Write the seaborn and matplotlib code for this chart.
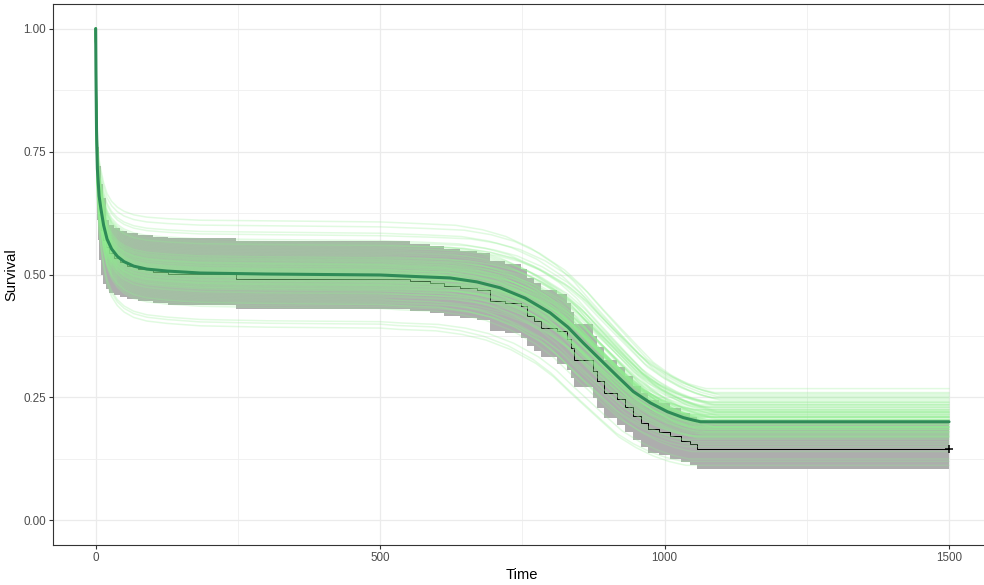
import numpy as np
import pandas as pd
import matplotlib
matplotlib.use("Agg")
import matplotlib.pyplot as plt
import seaborn as sns
from matplotlib.ticker import FixedLocator

# ---------------- data ----------------
# Kaplan-Meier estimate (step function) with confidence band
km_time = [0, 0.5, 1, 1.5, 2.5, 4, 6, 9, 13, 18, 24, 32, 42, 55, 75, 100, 128, 246, 553, 588,
           612, 640, 671, 694, 720, 747, 759, 770, 782, 811, 829, 835, 840, 875, 882, 893, 917, 930, 945, 958,
           970, 990, 1010, 1028, 1045, 1057, 1500]
km_surv = [1.0, 0.90, 0.82, 0.76, 0.70, 0.66, 0.62, 0.59, 0.57, 0.555, 0.543, 0.533, 0.525, 0.517, 0.511, 0.506, 0.502, 0.491, 0.487, 0.483,
           0.476, 0.473, 0.469, 0.446, 0.443, 0.436, 0.415, 0.405, 0.392, 0.385, 0.368, 0.350, 0.327, 0.303, 0.283, 0.260, 0.246, 0.230, 0.212, 0.198,
           0.185, 0.179, 0.171, 0.161, 0.155, 0.146, 0.146]
km_upper = [1.0, 0.96, 0.90, 0.85, 0.80, 0.76, 0.72, 0.685, 0.655, 0.61, 0.60, 0.595, 0.588, 0.585, 0.58, 0.577, 0.575, 0.568, 0.562, 0.557,
            0.551, 0.547, 0.543, 0.528, 0.522, 0.512, 0.493, 0.483, 0.469, 0.460, 0.443, 0.424, 0.400, 0.374, 0.352, 0.327, 0.312, 0.294, 0.274, 0.259,
            0.245, 0.238, 0.229, 0.218, 0.211, 0.198, 0.198]
km_lower = [1.0, 0.84, 0.74, 0.67, 0.61, 0.57, 0.53, 0.50, 0.48, 0.47, 0.462, 0.458, 0.455, 0.450, 0.446, 0.442, 0.439, 0.429, 0.425, 0.421,
            0.415, 0.411, 0.407, 0.385, 0.382, 0.370, 0.354, 0.344, 0.332, 0.318, 0.305, 0.290, 0.271, 0.248, 0.228, 0.209, 0.195, 0.180, 0.163, 0.150,
            0.138, 0.133, 0.125, 0.118, 0.112, 0.105, 0.105]
censor_time = [1500]
censor_surv = [0.146]

# posterior mean survival curve
mean_time = [0, 0.5, 1.5, 3, 6, 9, 14, 20, 28, 38, 50, 67, 90, 126, 184, 300, 400, 500, 560, 623,
             670, 711, 755, 799, 830, 857, 887, 917, 945, 975, 1005, 1033, 1050, 1063, 1500]
mean_surv = [1.0, 0.913, 0.795, 0.715, 0.66, 0.635, 0.600, 0.572, 0.552, 0.537, 0.526, 0.517, 0.511, 0.507, 0.503, 0.501, 0.500, 0.499, 0.496, 0.493,
             0.485, 0.473, 0.452, 0.422, 0.393, 0.361, 0.327, 0.293, 0.262, 0.239, 0.221, 0.209, 0.204, 0.2006, 0.2006]

# individual posterior draws: first plateau level, final level, timing offset of the decline
draw_plateau = [0.608, 0.598, 0.585, 0.400, 0.392, 0.405,
                0.432, 0.436, 0.440, 0.443, 0.446, 0.449, 0.452, 0.455, 0.458, 0.461,
                0.464, 0.467, 0.470, 0.472, 0.475, 0.477, 0.480, 0.482, 0.485, 0.487,
                0.490, 0.492, 0.495, 0.497, 0.500, 0.502, 0.505, 0.507, 0.510, 0.512,
                0.515, 0.517, 0.520, 0.522, 0.525, 0.528, 0.530, 0.533, 0.536, 0.539,
                0.542, 0.545, 0.548, 0.551, 0.554, 0.557, 0.560, 0.563, 0.566, 0.570,
                0.478, 0.493, 0.508, 0.521,
                0.462, 0.468, 0.471, 0.474, 0.479, 0.481, 0.484, 0.486, 0.488, 0.491,
                0.494, 0.496, 0.498, 0.499, 0.501, 0.503, 0.504, 0.506, 0.509, 0.511,
                0.513, 0.516, 0.519, 0.523, 0.527, 0.531, 0.535, 0.440, 0.560, 0.580]
draw_final = [0.268, 0.258, 0.250, 0.120, 0.112, 0.125,
              0.150, 0.170, 0.155, 0.175, 0.160, 0.180, 0.165, 0.185, 0.168, 0.190,
              0.172, 0.188, 0.176, 0.195, 0.178, 0.200, 0.182, 0.198, 0.186, 0.205,
              0.190, 0.208, 0.194, 0.212, 0.196, 0.185, 0.215, 0.200, 0.220, 0.203,
              0.218, 0.205, 0.225, 0.210, 0.228, 0.212, 0.232, 0.215, 0.235, 0.218,
              0.238, 0.222, 0.242, 0.225, 0.245, 0.230, 0.248, 0.235, 0.252, 0.240,
              0.200, 0.180, 0.190, 0.200,
              0.190, 0.172, 0.200, 0.180, 0.210, 0.170, 0.200, 0.190, 0.215, 0.185,
              0.210, 0.200, 0.190, 0.222, 0.205, 0.195, 0.225, 0.210, 0.200, 0.230,
              0.190, 0.220, 0.205, 0.235, 0.210, 0.240, 0.220, 0.140, 0.260, 0.255]
draw_offset = [10, 25, 20, -30, -25, -20,
               -25, -10, -20, 5, -15, 0, -30, 10, -5, 15,
               -20, 5, -10, 20, 0, -15, 10, 25, -5, 15,
               -10, 30, 0, -20, 5, 20, -15, 10, 25, -5,
               15, 30, -10, 5, 20, 35, 0, 10, 25, -5,
               15, 30, 5, 20, 35, 10, 25, 0, 30, 15,
               -10, 10, -20, 20,
               5, -10, 15, 0, 20, -5, 10, 25, -15, 5,
               15, -5, 20, 0, 10, 30, -10, 5, 15, -5,
               25, 0, 10, 20, -5, 15, 30, -15, 25, 35]

# ---------------- build long table for the draws ----------------
lo_level = mean_surv[-1]
hi_level = 0.5
rows = []
for d, (a, b, s) in enumerate(zip(draw_plateau, draw_final, draw_offset)):
    for t, m in zip(mean_time, mean_surv):
        if t < 300:
            y = 1 - (1 - m) * (1 - a) / (1 - hi_level)
        else:
            y = b + (m - lo_level) * (a - b) / (hi_level - lo_level)
        x = t + s if 500 < t < 1500 else t
        rows.append((d, x, y))
draws = pd.DataFrame(rows, columns=["draw", "time", "surv"])
mean_df = pd.DataFrame({"time": mean_time, "surv": mean_surv})
km_df = pd.DataFrame({"time": km_time, "surv": km_surv})

# ---------------- plotting ----------------
sns.set_theme(style="white")
plt.rcParams["font.family"] = ["Liberation Sans", "DejaVu Sans"]

fig = plt.figure(figsize=(9.84, 5.85), dpi=100)
ax = fig.add_axes([53 / 984, 40 / 585, 938.7 / 984, 541 / 585])

ax.fill_between(km_time, km_lower, km_upper, step="post", color="#ADADAD", lw=0, zorder=1)
sns.lineplot(data=km_df, x="time", y="surv", drawstyle="steps-post", color="black",
             lw=0.7, estimator=None, ax=ax, zorder=2)
sns.lineplot(data=draws, x="time", y="surv", units="draw", estimator=None, sort=False,
             color="#90EE90", alpha=0.27, lw=1.1, ax=ax, legend=False, zorder=3)
sns.lineplot(data=mean_df, x="time", y="surv", color="#2E8B57", lw=2.2,
             estimator=None, sort=False, ax=ax, zorder=4)
ax.plot(censor_time, censor_surv, marker="+", ls="none", color="black", ms=6, mew=1.1, zorder=5)

ax.set_xlim(-75, 1575)
ax.set_ylim(-0.05, 1.05)
ax.xaxis.set_major_locator(FixedLocator([0, 500, 1000, 1500]))
ax.xaxis.set_minor_locator(FixedLocator([250, 750, 1250]))
ax.yaxis.set_major_locator(FixedLocator([0, 0.25, 0.5, 0.75, 1.0]))
ax.yaxis.set_minor_locator(FixedLocator([0.125, 0.375, 0.625, 0.875]))
ax.set_xticklabels(["0", "500", "1000", "1500"])
ax.set_yticklabels(["0.00", "0.25", "0.50", "0.75", "1.00"])

ax.set_axisbelow(True)
ax.grid(which="major", color="#EBEBEB", lw=0.9)
ax.grid(which="minor", color="#EFEFEF", lw=0.6)
ax.tick_params(which="major", direction="out", length=3, width=0.8, color="#333333",
               labelcolor="#4D4D4D", labelsize=8.4, pad=2,
               bottom=True, left=True)
ax.tick_params(which="minor", length=0)
for sp in ax.spines.values():
    sp.set_color("#333333")
    sp.set_linewidth(0.8)
    sp.set_visible(True)

ax.set_xlabel("Time", fontsize=10.6, color="black", labelpad=3)
ax.set_ylabel("Survival", fontsize=10.6, color="black", labelpad=4)

fig.savefig("out.png", dpi=100, facecolor="white")
